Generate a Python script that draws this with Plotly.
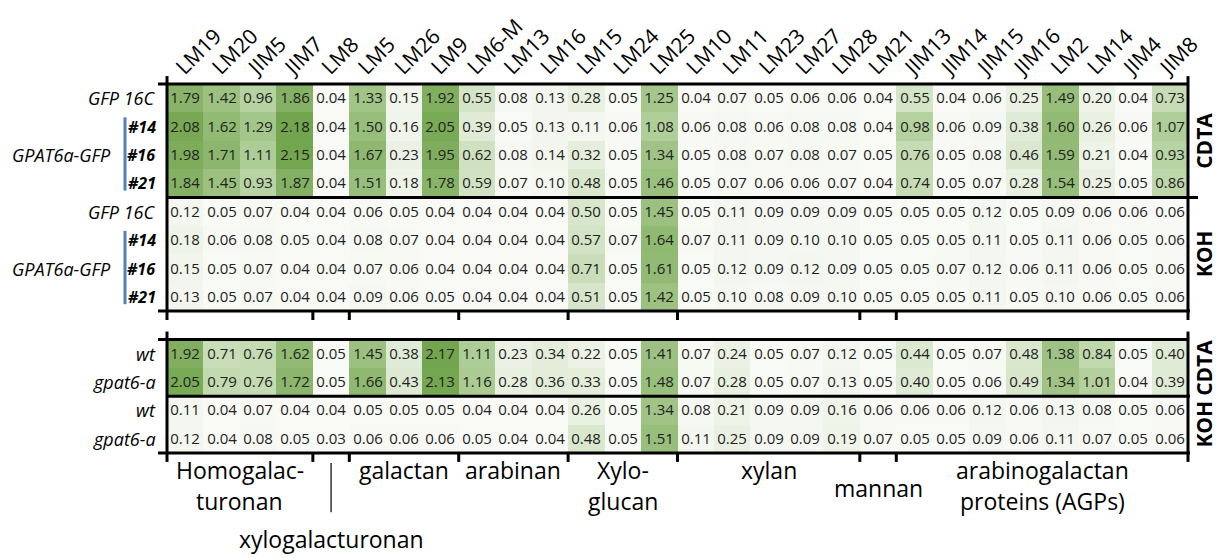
import plotly.graph_objects as go

antibodies = ["LM19", "LM20", "JIM5", "JIM7", "LM8", "LM5", "LM26", "LM9", "LM6-M", "LM13",
              "LM16", "LM15", "LM24", "LM25", "LM10", "LM11", "LM23", "LM27", "LM28", "LM21",
              "JIM13", "JIM14", "JIM15", "JIM16", "LM2", "LM14", "JIM4", "JIM8"]

# Upper block: CDTA fraction
cdta_gfp16c = [1.79, 1.42, 0.96, 1.86, 0.04, 1.33, 0.15, 1.92, 0.55, 0.08, 0.13, 0.28, 0.05, 1.25,
               0.04, 0.07, 0.05, 0.06, 0.06, 0.04, 0.55, 0.04, 0.06, 0.25, 1.49, 0.20, 0.04, 0.73]
cdta_l14 = [2.08, 1.62, 1.29, 2.18, 0.04, 1.50, 0.16, 2.05, 0.39, 0.05, 0.13, 0.11, 0.06, 1.08,
            0.06, 0.08, 0.06, 0.08, 0.08, 0.04, 0.98, 0.06, 0.09, 0.38, 1.60, 0.26, 0.06, 1.07]
cdta_l16 = [1.98, 1.71, 1.11, 2.15, 0.04, 1.67, 0.23, 1.95, 0.62, 0.08, 0.14, 0.32, 0.05, 1.34,
            0.05, 0.08, 0.07, 0.08, 0.07, 0.05, 0.76, 0.05, 0.08, 0.46, 1.59, 0.21, 0.04, 0.93]
cdta_l21 = [1.84, 1.45, 0.93, 1.87, 0.04, 1.51, 0.18, 1.78, 0.59, 0.07, 0.10, 0.48, 0.05, 1.46,
            0.05, 0.07, 0.06, 0.06, 0.07, 0.04, 0.74, 0.05, 0.07, 0.28, 1.54, 0.25, 0.05, 0.86]
# Upper block: KOH fraction
koh_gfp16c = [0.12, 0.05, 0.07, 0.04, 0.04, 0.06, 0.05, 0.04, 0.04, 0.04, 0.04, 0.50, 0.05, 1.45,
              0.05, 0.11, 0.09, 0.09, 0.09, 0.05, 0.05, 0.05, 0.12, 0.05, 0.09, 0.06, 0.06, 0.06]
koh_l14 = [0.18, 0.06, 0.08, 0.05, 0.04, 0.08, 0.07, 0.04, 0.04, 0.04, 0.04, 0.57, 0.07, 1.64,
           0.07, 0.11, 0.09, 0.10, 0.10, 0.05, 0.05, 0.05, 0.11, 0.05, 0.11, 0.06, 0.05, 0.06]
koh_l16 = [0.15, 0.05, 0.07, 0.04, 0.04, 0.07, 0.06, 0.04, 0.04, 0.04, 0.04, 0.71, 0.05, 1.61,
           0.05, 0.12, 0.09, 0.12, 0.09, 0.05, 0.05, 0.07, 0.12, 0.06, 0.11, 0.06, 0.05, 0.06]
koh_l21 = [0.13, 0.05, 0.07, 0.04, 0.04, 0.09, 0.06, 0.05, 0.04, 0.04, 0.04, 0.51, 0.05, 1.42,
           0.05, 0.10, 0.08, 0.09, 0.10, 0.05, 0.05, 0.05, 0.11, 0.05, 0.10, 0.06, 0.05, 0.06]
# Lower block
cdta_wt = [1.92, 0.71, 0.76, 1.62, 0.05, 1.45, 0.38, 2.17, 1.11, 0.23, 0.34, 0.22, 0.05, 1.41,
           0.07, 0.24, 0.05, 0.07, 0.12, 0.05, 0.44, 0.05, 0.07, 0.48, 1.38, 0.84, 0.05, 0.40]
cdta_gpat6a = [2.05, 0.79, 0.76, 1.72, 0.05, 1.66, 0.43, 2.13, 1.16, 0.28, 0.36, 0.33, 0.05, 1.48,
               0.07, 0.28, 0.05, 0.07, 0.13, 0.05, 0.40, 0.05, 0.06, 0.49, 1.34, 1.01, 0.04, 0.39]
koh_wt = [0.11, 0.04, 0.07, 0.04, 0.04, 0.05, 0.05, 0.05, 0.04, 0.04, 0.04, 0.26, 0.05, 1.34,
          0.08, 0.21, 0.09, 0.09, 0.16, 0.06, 0.06, 0.06, 0.12, 0.06, 0.13, 0.08, 0.05, 0.06]
koh_gpat6a = [0.12, 0.04, 0.08, 0.05, 0.03, 0.06, 0.06, 0.06, 0.05, 0.04, 0.04, 0.48, 0.05, 1.51,
              0.11, 0.25, 0.09, 0.09, 0.19, 0.07, 0.05, 0.05, 0.09, 0.06, 0.11, 0.07, 0.05, 0.06]

upper_rows = ["GFP 16C", "#14", "#16", "#21"]
lower_rows = ["wt", "gpat6-a"]
fractions = ["CDTA", "KOH"]
line_group = "GPAT6a-GFP"

group_names = ["Homogalac-<br>turonan", "xylogalacturonan", "galactan", "arabinan",
               "Xylo-<br>glucan", "xylan", "mannan", "arabinogalactan<br>proteins (AGPs)"]
group_bounds = [0, 4, 5, 8, 11, 14, 19, 20, 28]

# ---- assemble grid (row 8 is an empty spacer between the two blocks) ----
rows = [cdta_gfp16c, cdta_l14, cdta_l16, cdta_l21,
        koh_gfp16c, koh_l14, koh_l16, koh_l21,
        None,
        cdta_wt, cdta_gpat6a, koh_wt, koh_gpat6a]
ncol = len(antibodies)
nrow = len(rows)
z, txt = [], []
for r in rows:
    if r is None:
        z.append([None] * ncol)
        txt.append([""] * ncol)
    else:
        z.append(list(r))
        txt.append([f"{v:.2f}" for v in r])

FONT = "Open Sans"
fig = go.Figure(go.Heatmap(
    z=z, x=list(range(ncol)), y=list(range(nrow)), text=txt,
    texttemplate="%{text}", textfont=dict(family=FONT, size=15, color="#222222"),
    colorscale=[[0, "rgb(252,252,250)"], [0.45, "rgb(180,209,158)"], [1, "rgb(113,164,76)"]],
    zmin=0.0, zmax=2.2, showscale=False, hoverinfo="skip", xgap=0, ygap=0,
))

W, H = 1219, 558
L, R, T, B = 167, 31, 80, 105
PW, PH = W - L - R, H - T - B
PX, PY = 1.0 / PW, 1.0 / PH


def xb(k):  # column boundary k -> paper x
    return k / ncol


def yb(r):  # row boundary (data value r) -> paper y
    return 1 - (r + 0.5) / nrow


shapes = []


def seg(x0, y0, x1, y1, w=3, color="black"):
    shapes.append(dict(type="line", xref="paper", yref="paper", x0=x0, y0=y0, x1=x1, y1=y1,
                       line=dict(width=w, color=color), layer="above"))


# upper block frame
top_u, mid_u, bot_u = yb(-0.5), yb(3.5), yb(7.5)
top_l, mid_l, bot_l = yb(8.5), yb(10.5), yb(12.5)
seg(-9 * PX, top_u, xb(ncol) + 1 * PX, top_u)
seg(xb(0), mid_u, xb(ncol) + 10 * PX, mid_u)
seg(-9 * PX, bot_u, xb(ncol) + 2 * PX, bot_u)
seg(xb(0), top_u + 8 * PY, xb(0), bot_u - 9 * PY)
seg(xb(ncol), top_u + 8 * PY, xb(ncol), bot_u - 9 * PY)
# lower block frame
seg(-9 * PX, top_l, xb(ncol) + 1 * PX, top_l)
seg(xb(0), mid_l, xb(ncol) + 2 * PX, mid_l)
seg(-9 * PX, bot_l, xb(ncol) + 2 * PX, bot_l)
seg(xb(0), top_l + 8 * PY, xb(0), bot_l - 9 * PY)
seg(xb(ncol), top_l + 8 * PY, xb(ncol), bot_l - 9 * PY)
# group ticks
for k in group_bounds[1:-1]:
    seg(xb(k), bot_u, xb(k), bot_u - 9 * PY)
    seg(xb(k), bot_l, xb(k), bot_l - 9 * PY)

# blue brackets for transgenic lines
BLUE = "#4F81BD"
bx = -42 * PX
seg(bx, yb(0.5) - 5 * PY, bx, yb(3.5) + 7 * PY, w=3, color=BLUE)
seg(bx, yb(4.5) - 5 * PY, bx, yb(7.5) + 7 * PY, w=3, color=BLUE)

ann = []
# row labels
for base in (0, 4):
    for i, lab in enumerate(upper_rows):
        bold = lab.startswith("#")
        ann.append(dict(x=-9 * PX, y=base + i, xref="paper", yref="y", text=lab,
                        xanchor="right", yanchor="middle", showarrow=False,
                        font=dict(family=FONT, size=16 if bold else 18, color="black",
                                  style="italic", weight="bold" if bold else "normal")))
    ann.append(dict(x=-54 * PX, y=base + 2, xref="paper", yref="y", text=line_group,
                    xanchor="right", yanchor="middle", showarrow=False,
                    font=dict(family=FONT, size=18, color="black", style="italic")))
for base in (9, 11):
    for i, lab in enumerate(lower_rows):
        ann.append(dict(x=-9 * PX, y=base + i, xref="paper", yref="y", text=lab,
                        xanchor="right", yanchor="middle", showarrow=False,
                        font=dict(family=FONT, size=18, color="black", style="italic")))

# fraction labels on the right
for yc, lab in [(1.5, fractions[0]), (5.5, fractions[1]), (9.5, fractions[0]), (11.5, fractions[1])]:
    ann.append(dict(x=xb(ncol) + 16 * PX, y=yc, xref="paper", yref="y", text=lab,
                    textangle=-90, xanchor="center", yanchor="middle", showarrow=False,
                    font=dict(family=FONT, size=21, color="black", weight="bold")))

# polymer group labels under the lower block
for gi, name in enumerate(group_names):
    c = (group_bounds[gi] + group_bounds[gi + 1]) / 2 - 0.5
    lines = name.split("<br>")
    if name == "xylogalacturonan":
        ystart = bot_l - 87 * PY
    elif name == "mannan":
        ystart = bot_l - 35 * PY
    else:
        ystart = bot_l - 17 * PY
    for li, ln in enumerate(lines):
        ann.append(dict(x=c, y=ystart - li * 32 * PY, xref="x", yref="paper", text=ln,
                        xanchor="center", yanchor="middle", showarrow=False,
                        font=dict(family=FONT, size=23, color="black")))

# connector for xylogalacturonan
xc = (xb(group_bounds[1]) + xb(group_bounds[2])) / 2
seg(xc, bot_l - 10 * PY, xc, bot_l - 60 * PY, w=1.5, color="#333333")

fig.update_layout(
    width=W, height=H,
    margin=dict(l=L, r=R, t=T, b=B, pad=0),
    paper_bgcolor="white", plot_bgcolor="white",
    shapes=shapes, annotations=ann,
    xaxis=dict(range=[-0.5, ncol - 0.5], side="top", tickmode="array",
               tickvals=list(range(ncol)), ticktext=antibodies, tickangle=-45,
               tickfont=dict(family=FONT, size=21, color="black"), ticklabelshift=-8,
               showgrid=False, zeroline=False, showline=False, ticks=""),
    yaxis=dict(range=[nrow - 0.5, -0.5], showticklabels=False, showgrid=False,
               zeroline=False, showline=False, ticks=""),
)

fig.write_html("out.html")
